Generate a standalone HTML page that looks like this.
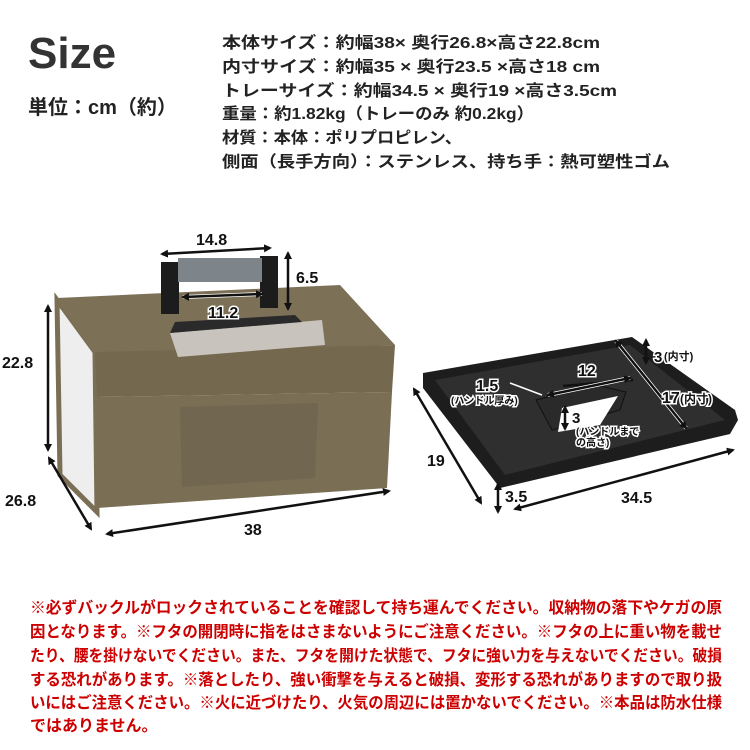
<!DOCTYPE html>
<html><head><meta charset="utf-8"><style>
body{margin:0;background:#fff}
svg{display:block}
text{font-family:"Liberation Sans","Noto Sans CJK JP",sans-serif;font-weight:bold}
</style></head><body>
<svg width="750" height="750" viewBox="0 0 750 750">
<defs>
<marker id="a" markerWidth="8" markerHeight="8" refX="6" refY="4" orient="auto-start-reverse" markerUnits="userSpaceOnUse"><path d="M0,0 L8,4 L0,8 Z" fill="#111"/></marker>
</defs>
<text x="28" y="68" font-size="44" fill="#333">Size</text>
<text x="28" y="114" font-size="20" fill="#222">単位：cm（約）</text>
<g font-size="16" fill="#222">
<text x="222" y="48" textLength="378" lengthAdjust="spacingAndGlyphs">本体サイズ：約幅38× 奥行26.8×高さ22.8cm</text>
<text x="222" y="72" textLength="378" lengthAdjust="spacingAndGlyphs">内寸サイズ：約幅35 × 奥行23.5 ×高さ18 cm</text>
<text x="222" y="96" textLength="395" lengthAdjust="spacingAndGlyphs">トレーサイズ：約幅34.5 × 奥行19 ×高さ3.5cm</text>
<text x="222" y="119" textLength="312" lengthAdjust="spacingAndGlyphs">重量：約1.82kg（トレーのみ 約0.2kg）</text>
<text x="222" y="143" textLength="240" lengthAdjust="spacingAndGlyphs">材質：本体：ポリプロピレン、</text>
<text x="222" y="167" textLength="448" lengthAdjust="spacingAndGlyphs">側面（長手方向）：ステンレス、持ち手：熱可塑性ゴム</text>
</g>
<!-- box -->
<polygon points="57,300 95,352 97,512 60,475" fill="#eee" stroke="#7a6f55" stroke-width="5"/>
<polygon points="57,298 340,285 395,345 95,355" fill="#7c7057"/>
<polygon points="95,352 395,345 392,392 97,397" fill="#74684f"/>
<polygon points="97,397 392,392 387,488 97,508" fill="#7a6e54"/>
<polygon points="180,407 318,403 315,478 182,487" fill="#716650"/>
<polygon points="170,333 322,320 325,345 178,357" fill="#c8c4bd"/>
<polygon points="175,322 295,315 302,322 170,333" fill="#2a2a2a"/>
<rect x="161" y="262" width="18" height="52" fill="#1c1c1c"/>
<rect x="260" y="256" width="18" height="52" fill="#1c1c1c"/>
<rect x="178" y="258" width="84" height="24" fill="#7d848a"/>
<!-- box dims -->
<g stroke="#111" stroke-width="2.5" fill="none">
<line x1="162" y1="254" x2="270" y2="248" marker-start="url(#a)" marker-end="url(#a)"/>
<line x1="288" y1="253" x2="288" y2="309" marker-start="url(#a)" marker-end="url(#a)"/>
<line x1="183" y1="297" x2="262" y2="294" stroke="#fff" stroke-width="4"/>
<line x1="183" y1="297" x2="262" y2="294" marker-start="url(#a)" marker-end="url(#a)"/>
<line x1="48" y1="306" x2="48" y2="450" marker-start="url(#a)" marker-end="url(#a)"/>
<line x1="49" y1="458" x2="91" y2="529" marker-start="url(#a)" marker-end="url(#a)"/>
<line x1="107" y1="534" x2="389" y2="491" marker-start="url(#a)" marker-end="url(#a)"/>
</g>
<g font-size="16" fill="#111">
<text x="196" y="245">14.8</text>
<text x="296" y="283">6.5</text>
<text x="208" y="318" stroke="#fff" stroke-width="3" paint-order="stroke">11.2</text>
<text x="2" y="368">22.8</text>
<text x="5" y="506">26.8</text>
<text x="244" y="535">38</text>
</g>
<!-- tray -->
<polygon points="423,373 632,337 735,410 738,420 730,434 500,488 423,388" fill="#1d1d1d"/>
<polygon points="435,380 630,345 725,420 505,475" fill="#2f2f2f"/>
<polygon points="536,400 596,385 626,392 620,410 552,430" fill="#2a2a2a" stroke="#111"/>
<polygon points="562,408 618,396 600,425 558,432" fill="#fff"/>
<g stroke="#111" stroke-width="2.5" fill="none">
<line x1="414" y1="389" x2="481" y2="503" marker-start="url(#a)" marker-end="url(#a)"/>
<line x1="498" y1="484" x2="498" y2="512" marker-start="url(#a)" marker-end="url(#a)"/>
<line x1="515" y1="509" x2="733" y2="450" marker-start="url(#a)" marker-end="url(#a)"/>
<line x1="646" y1="340" x2="646" y2="363" marker-start="url(#a)" marker-end="url(#a)"/>
<line x1="563" y1="386" x2="633" y2="380"/>
<line x1="616" y1="341" x2="686" y2="428" stroke="#fff" stroke-width="4"/>
<line x1="616" y1="341" x2="686" y2="428" marker-start="url(#a)" marker-end="url(#a)"/>
<line x1="548" y1="395" x2="630" y2="378" stroke="#fff" stroke-width="4"/>
<line x1="548" y1="395" x2="630" y2="378" marker-start="url(#a)" marker-end="url(#a)"/>
<line x1="565" y1="407" x2="565" y2="429" stroke="#fff" stroke-width="4"/>
<line x1="565" y1="407" x2="565" y2="429" marker-start="url(#a)" marker-end="url(#a)"/>
<line x1="510" y1="383" x2="542" y2="395" stroke="#fff" stroke-width="1.5"/>
</g>
<g fill="#111" stroke="#fff" stroke-width="3" paint-order="stroke">
<text x="654" y="362" font-size="15">3</text><text x="664" y="360" font-size="11">(内寸)</text>
<text x="578" y="376" font-size="16">12</text>
<text x="476" y="391" font-size="16">1.5</text>
<text x="451" y="404" font-size="10">(ハンドル厚み)</text>
<text x="662" y="403" font-size="16">17</text><text x="680" y="403" font-size="12">(内寸)</text>
<text x="572" y="423" font-size="15">3</text>
<text x="576" y="435" font-size="10">(ハンドルまで</text>
<text x="576" y="446" font-size="10">の高さ)</text>
</g>
<g font-size="16" fill="#111">
<text x="427" y="466">19</text>
<text x="505" y="502">3.5</text>
<text x="621" y="503">34.5</text>
</g>
<g font-size="16" fill="#c00" font-family="Liberation Sans,Noto Sans CJK JP,sans-serif">
<text x="30" y="613" textLength="692" lengthAdjust="spacingAndGlyphs">※必ずバックルがロックされていることを確認して持ち運んでください。収納物の落下やケガの原</text>
<text x="30" y="637" textLength="692" lengthAdjust="spacingAndGlyphs">因となります。※フタの開閉時に指をはさまないようにご注意ください。※フタの上に重い物を載せ</text>
<text x="30" y="661" textLength="692" lengthAdjust="spacingAndGlyphs">たり、腰を掛けないでください。また、フタを開けた状態で、フタに強い力を与えないでください。破損</text>
<text x="30" y="685" textLength="692" lengthAdjust="spacingAndGlyphs">する恐れがあります。※落としたり、強い衝撃を与えると破損、変形する恐れがありますので取り扱</text>
<text x="30" y="708" textLength="692" lengthAdjust="spacingAndGlyphs">いにはご注意ください。※火に近づけたり、火気の周辺には置かないでください。※本品は防水仕様</text>
<text x="30" y="731">ではありません。</text>
</g>
</svg>
</body></html>
